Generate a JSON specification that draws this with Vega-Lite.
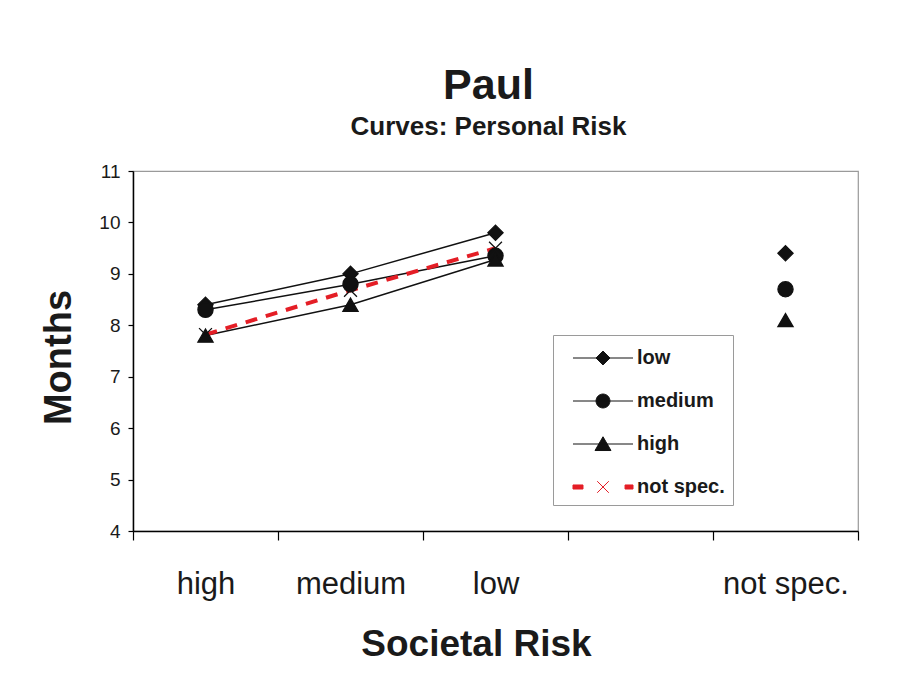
{
  "$schema": "https://vega.github.io/schema/vega-lite/v6.json",
  "width": 725,
  "height": 360,
  "autosize": {"type": "none"},
  "padding": {"left": 133, "top": 171, "right": 49, "bottom": 146},
  "background": "white",
  "title": {
    "text": "Paul",
    "subtitle": "Curves: Personal Risk",
    "anchor": "middle",
    "font": "Liberation Sans",
    "fontSize": 43,
    "fontWeight": "bold",
    "color": "#1a1a1a",
    "subtitleFont": "Liberation Sans",
    "subtitleFontSize": 26,
    "subtitleFontWeight": "bold",
    "subtitleColor": "#1a1a1a",
    "subtitlePadding": 6,
    "offset": 22,
    "dx": -7
  },
  "config": {
    "font": "Liberation Sans",
    "view": {"stroke": "#9a9a9a", "strokeWidth": 1.2},
    "legend": {
      "title": null,
      "orient": "none",
      "legendX": 420,
      "legendY": 164,
      "padding": 8,
      "strokeColor": "#9a9a9a",
      "fillColor": "white",
      "cornerRadius": 0,
      "symbolSize": 841,
      "symbolStrokeWidth": 1,
      "symbolOffset": 27,
      "labelOffset": 19,
      "rowPadding": 18,
      "labelFontSize": 20,
      "labelFontWeight": "bold",
      "labelColor": "#1a1a1a"
    }
  },
  "data": {
    "values": [
      {"risk": "high", "personal": "low", "months": 8.4},
      {"risk": "medium", "personal": "low", "months": 9.0},
      {"risk": "low", "personal": "low", "months": 9.8},
      {"risk": "not spec.", "personal": "low", "months": 9.4},
      {"risk": "high", "personal": "medium", "months": 8.3},
      {"risk": "medium", "personal": "medium", "months": 8.8},
      {"risk": "low", "personal": "medium", "months": 9.35},
      {"risk": "not spec.", "personal": "medium", "months": 8.7},
      {"risk": "high", "personal": "high", "months": 7.8},
      {"risk": "medium", "personal": "high", "months": 8.4},
      {"risk": "low", "personal": "high", "months": 9.28},
      {"risk": "not spec.", "personal": "high", "months": 8.1},
      {"risk": "high", "personal": "not spec.", "months": 7.82},
      {"risk": "medium", "personal": "not spec.", "months": 8.68},
      {"risk": "low", "personal": "not spec.", "months": 9.5}
    ]
  },
  "encoding": {
    "x": {
      "field": "risk",
      "type": "nominal",
      "sort": null,
      "scale": {"type": "band", "domain": ["high", "medium", "low", "gap", "not spec."], "paddingInner": 0, "paddingOuter": 0},
      "axis": {
        "title": "Societal Risk",
        "labelAngle": 0,
        "tickBand": "extent",
        "tickSize": 9,
        "tickColor": "black",
        "tickWidth": 1.2,
        "domainColor": "black",
        "domainWidth": 1.5,
        "labelFontSize": 31,
        "labelColor": "#1a1a1a",
        "labelBaseline": "alphabetic",
        "labelPadding": 53,
        "labelExpr": "datum.value === 'gap' ? '' : datum.value",
        "titleFontSize": 37,
        "titleFontWeight": "bold",
        "titleColor": "#1a1a1a",
        "titleBaseline": "alphabetic",
        "titleAnchor": "start",
        "titleAlign": "center",
        "titleX": 343,
        "titleY": 124
      }
    },
    "y": {
      "field": "months",
      "type": "quantitative",
      "scale": {"domain": [4, 11], "nice": false, "zero": false},
      "axis": {
        "title": "Months",
        "values": [4, 5, 6, 7, 8, 9, 10, 11],
        "grid": false,
        "tickSize": 5,
        "tickColor": "black",
        "tickWidth": 1.2,
        "domainColor": "black",
        "domainWidth": 1.5,
        "labelFontSize": 19,
        "labelColor": "#1a1a1a",
        "labelPadding": 8,
        "titleFontSize": 38,
        "titleFontWeight": "bold",
        "titleColor": "#1a1a1a",
        "titleBaseline": "alphabetic",
        "titleAngle": -90,
        "titleAlign": "center",
        "titleX": -63,
        "titleY": 186
      }
    }
  },
  "layer": [
    {
      "transform": [{"filter": "datum.personal !== 'not spec.' && datum.risk !== 'not spec.'"}],
      "mark": {"type": "line", "color": "#111111", "strokeWidth": 1.5},
      "encoding": {"detail": {"field": "personal", "type": "nominal"}}
    },
    {
      "transform": [{"filter": "datum.personal === 'not spec.'"}],
      "mark": {"type": "line", "color": "#e41e26", "strokeWidth": 4, "strokeDash": [12, 9]},
      "encoding": {}
    },
    {
      "transform": [{"filter": "datum.personal === 'low'"}],
      "mark": {"type": "point", "shape": "diamond", "filled": true, "fill": "#111111", "stroke": "#111111", "strokeWidth": 1.3, "opacity": 1, "size": 230}
    },
    {
      "transform": [{"filter": "datum.personal === 'medium'"}],
      "mark": {"type": "point", "shape": "circle", "filled": true, "fill": "#111111", "stroke": "#111111", "strokeWidth": 1.3, "opacity": 1, "size": 230}
    },
    {
      "transform": [{"filter": "datum.personal === 'high'"}],
      "mark": {"type": "point", "shape": "triangle-up", "filled": true, "fill": "#111111", "stroke": "#111111", "strokeWidth": 1.3, "opacity": 1, "size": 230}
    },
    {
      "transform": [{"filter": "datum.personal === 'not spec.'"}],
      "mark": {"type": "point", "shape": "M-0.85,-0.85L0.85,0.85M-0.85,0.85L0.85,-0.85", "filled": false, "stroke": "#111111", "strokeWidth": 1.3, "opacity": 1, "size": 230}
    },
    {
      "transform": [{"filter": "false"}],
      "mark": {"type": "point", "filled": true, "strokeWidth": 1, "opacity": 1},
      "encoding": {
        "shape": {
          "field": "personal",
          "type": "nominal",
          "scale": {
            "domain": ["low", "medium", "high", "not spec."],
            "range": [
              "M-2.07,0H2.07M0,-0.48L0.48,0L0,0.48L-0.48,0Z",
              "M-2.07,0H2.07M0.48,0A0.48,0.48 0 1,1 -0.48,0A0.48,0.48 0 1,1 0.48,0Z",
              "M-2.07,0H2.07M0,-0.5L0.55,0.45L-0.55,0.45Z",
              "M-2.07,-0.14H-1.38V0.14H-2.07Z M1.52,-0.14H2.07V0.14H1.52Z M-0.4,-0.4L0.4,0.4M-0.4,0.4L0.4,-0.4"
            ]
          }
        },
        "fill": {
          "field": "personal",
          "type": "nominal",
          "scale": {"domain": ["low", "medium", "high", "not spec."], "range": ["#111111", "#111111", "#111111", "#e41e26"]}
        },
        "stroke": {
          "field": "personal",
          "type": "nominal",
          "scale": {"domain": ["low", "medium", "high", "not spec."], "range": ["#111111", "#111111", "#111111", "#e41e26"]}
        }
      }
    }
  ]
}
